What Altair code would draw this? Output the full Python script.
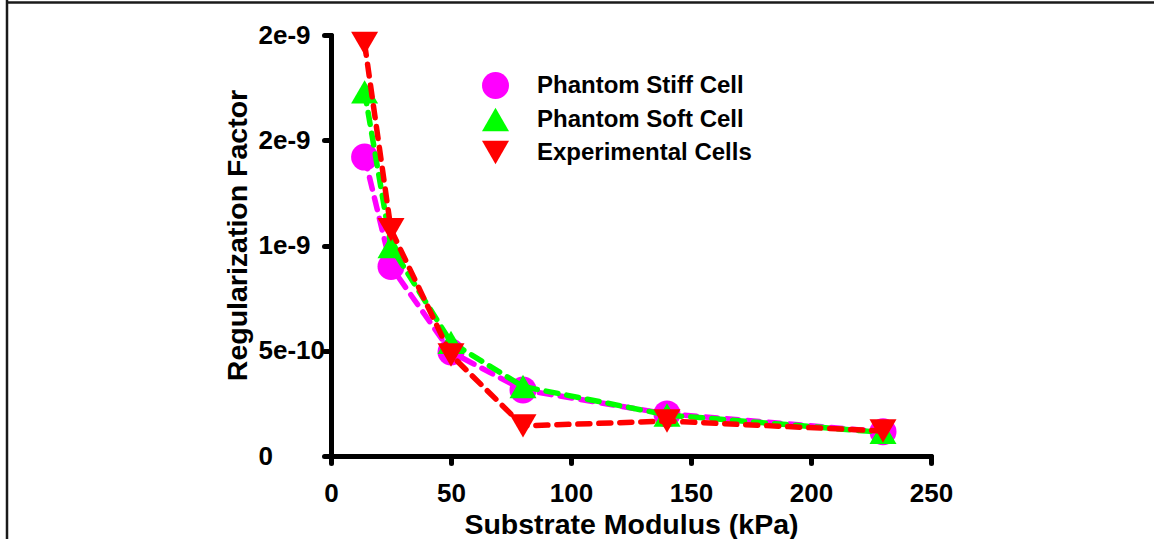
import json

import altair as alt
import pandas as pd

# Substrate stiffness (kPa) and regularization factor for each series
modulus_kpa = [14, 25, 50, 80, 140, 230]
stiff_cell = [1.42e-9, 9.0e-10, 4.94e-10, 3.14e-10, 2.0e-10, 1.15e-10]
soft_cell = [1.73e-9, 9.95e-10, 5.4e-10, 3.3e-10, 1.95e-10, 1.12e-10]
experimental = [1.96e-9, 1.075e-9, 4.8e-10, 1.43e-10, 1.66e-10, 1.19e-10]

series_names = ["Phantom Stiff Cell", "Phantom Soft Cell", "Experimental Cells"]
series_colors = ["#FF00FF", "#00FF00", "#FF0000"]
series_shapes = ["circle", "triangle-up", "triangle-down"]

x_ticks = [0, 50, 100, 150, 200, 250]
y_ticks = [0, 5e-10, 1e-9, 1.5e-9, 2e-9]
y_tick_labels = ["0", "5e-10", "1e-9", "2e-9", "2e-9"]

FONT = "Liberation Sans"

rows = []
for name, values in zip(series_names, [stiff_cell, soft_cell, experimental]):
    for m, v in zip(modulus_kpa, values):
        rows.append({"series": name, "modulus": m, "factor": v})
df = pd.DataFrame(rows)

y_label_expr = (
    f"{json.dumps(y_tick_labels)}[indexof({json.dumps(y_ticks)}, datum.value)]"
)

x_enc = alt.X(
    "modulus:Q",
    scale=alt.Scale(domain=[0, 250], nice=False, zero=False),
    axis=alt.Axis(
        values=x_ticks,
        title="Substrate Modulus (kPa)",
        titleY=77,
        titleBaseline="alphabetic",
        labelPadding=17,
    ),
)
y_enc = alt.Y(
    "factor:Q",
    scale=alt.Scale(domain=[0, 2e-9], nice=False),
    axis=alt.Axis(
        values=y_ticks,
        labelExpr=y_label_expr,
        labelAlign="left",
        labelBaseline="middle",
        labelPadding=66,
        title="Regularization Factor",
        titleAngle=270,
        titleX=-85,
        titleY=200,
        titleAlign="center",
        titleBaseline="alphabetic",
    ),
)

color_scale = alt.Scale(domain=series_names, range=series_colors)
shape_scale = alt.Scale(domain=series_names, range=series_shapes)
legend = alt.Legend(
    title=None,
    orient="none",
    legendX=151,
    legendY=37,
    padding=0,
    rowPadding=7,
    labelOffset=28,
    labelLimit=0,
    symbolSize=729,
    symbolStrokeWidth=0,
)

base = alt.Chart(df)
layers = []
for name, col in zip(series_names, series_colors):
    sub = base.transform_filter(alt.datum.series == name)
    line = sub.mark_line(
        color=col, strokeDash=[12, 9], strokeWidth=5.5, strokeCap="round"
    ).encode(x=x_enc, y=y_enc)
    pts = sub.mark_point(filled=True, size=729, opacity=1, strokeWidth=0).encode(
        x=x_enc,
        y=y_enc,
        color=alt.Color("series:N", scale=color_scale, legend=legend),
        shape=alt.Shape("series:N", scale=shape_scale, legend=legend),
    )
    layers += [line, pts]

# Figure frame along the top and left edges
one = pd.DataFrame({"k": [0]})
frame_left = alt.Chart(one).mark_rule(color="#1a1a1a", strokeWidth=2.5).encode(
    x=alt.value(-324), y=alt.value(-35), y2=alt.value(504)
)
frame_top = alt.Chart(one).mark_rule(color="#1a1a1a", strokeWidth=2.5).encode(
    x=alt.value(-325), x2=alt.value(823), y=alt.value(-32.5)
)

chart = (
    alt.layer(*layers, frame_left, frame_top)
    .properties(
        width=600,
        height=421,
        autosize=alt.AutoSizeParams(type="none"),
        padding={"left": 331, "top": 35, "right": 223, "bottom": 83},
        background="white",
    )
    .configure_view(stroke=None)
    .configure_axis(
        grid=False,
        domainColor="black",
        domainWidth=5,
        domainCap="round",
        tickColor="black",
        tickWidth=5,
        tickSize=7,
        tickCap="round",
        labelFont=FONT,
        labelFontSize=26,
        labelFontWeight="bold",
        labelColor="black",
        titleFont=FONT,
        titleFontSize=28.5,
        titleFontWeight="bold",
        titleColor="black",
        labelOverlap=False,
        labelFlush=False,
    )
    .configure_legend(
        labelFont=FONT,
        labelFontSize=24,
        labelFontWeight="bold",
        labelColor="black",
    )
)

chart.save("out.html", embed_options={"renderer": "svg", "actions": False})
